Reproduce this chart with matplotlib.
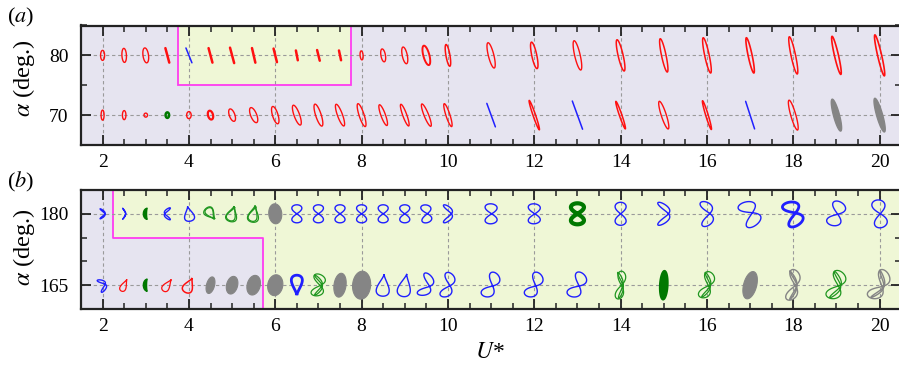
import numpy as np
import matplotlib
matplotlib.use("Agg")
import matplotlib.pyplot as plt
import matplotlib.transforms as mtransforms
from matplotlib.patches import Polygon, Rectangle
from matplotlib.lines import Line2D
from matplotlib.ticker import FixedLocator, MultipleLocator

plt.rcParams["font.family"] = "serif"
plt.rcParams["font.serif"] = ["Liberation Serif", "DejaVu Serif"]
plt.rcParams["mathtext.fontset"] = "stix"

DPI = 100

# reduced velocities of the test matrix (same for every row)
U_STAR = [2, 2.5, 3, 3.5, 4, 4.5, 5, 5.5, 6, 6.5, 7, 7.5, 8, 8.5, 9, 9.5, 10,
          11, 12, 13, 14, 15, 16, 17, 18, 19, 20]
U_TICKS = [2, 4, 6, 8, 10, 12, 14, 16, 18, 20]

ALPHA_A = [80, 70]
ALPHA_B = [180, 165]

# trajectory glyphs, one per U*: (kind, colour, width px, height px, tilt deg, phase, lw)
A_ROW_80 = [
    ("ell", "r", 4, 10, 0, 0, 1.0),
    ("ell", "r", 4.5, 14, 3, 0, 1.0),
    ("ell", "r", 5.5, 15, 8, 0, 1.0),
    ("seg", "r", 0, 15, 15, 0, 1.8),
    ("seg", "b", 0, 16, 22, 0, 1.1),
    ("seg", "r", 0, 15, 15, 0, 1.8),
    ("seg", "r", 0, 16, 15, 0, 1.8),
    ("seg", "r", 0, 15, 13, 0, 1.8),
    ("seg", "r", 0, 14, 14, 0, 1.8),
    ("seg", "r", 0, 10, 11, 0, 1.8),
    ("seg", "r", 0, 11, 14, 0, 1.8),
    ("seg", "r", 0, 10, 12, 0, 1.8),
    ("ell", "r", 3, 9, 5, 0, 1.0),
    ("ell", "r", 4.5, 13, 10, 0, 1.0),
    ("ell", "r", 5, 17, 12, 0, 1.0),
    ("ell", "r", 6, 20, 15, 0, 1.4),
    ("ell", "r", 4, 22, 10, 0, 1.1),
    ("ell", "r", 5.5, 26, 14, 0, 1.0),
    ("ell", "r", 5, 27, 12, 0, 1.1),
    ("ell", "r", 5.5, 30, 13, 0, 1.0),
    ("ell", "r", 5, 32, 13, 0, 1.1),
    ("ell", "r", 4.5, 34, 12, 0, 1.1),
    ("ell", "r", 4.5, 36, 12, 0, 1.1),
    ("ell", "r", 4, 36, 12, 0, 1.2),
    ("ell", "r", 4.5, 38, 12, 0, 1.1),
    ("ell", "r", 4, 39, 13, 0, 1.2),
    ("ell", "r", 4, 42, 13, 0, 1.2),
]

A_ROW_70 = [
    ("ell", "r", 3, 10, 0, 0, 1.0),
    ("ell", "r", 3.5, 9, 0, 0, 1.0),
    ("ell", "r", 3.5, 4, 0, 0, 1.0),
    ("ell", "G", 3.5, 5.5, 0, 0, 1.8),
    ("ell", "r", 4.5, 7, 0, 0, 1.0),
    ("ell", "r", 5, 9, 15, 0, 1.6),
    ("ell", "r", 5.5, 13, 20, 0, 1.0),
    ("ell", "r", 6, 16, 22, 0, 1.0),
    ("ell", "r", 5.5, 18, 17, 0, 1.0),
    ("ell", "r", 5.5, 21, 20, 0, 1.0),
    ("ell", "r", 5.5, 23, 18, 0, 1.0),
    ("ell", "r", 5, 23, 20, 0, 1.0),
    ("ell", "r", 5, 24, 18, 0, 1.0),
    ("ell", "r", 4.5, 22, 20, 0, 1.0),
    ("ell", "r", 4, 23, 20, 0, 1.0),
    ("ell", "r", 4.5, 24, 22, 0, 1.0),
    ("ell", "r", 4, 24, 18, 0, 1.0),
    ("seg", "b", 0, 25, 20, 0, 1.1),
    ("ell", "r", 2.5, 31, 19, 0, 1.1),
    ("seg", "b", 0, 30, 20, 0, 1.1),
    ("ell", "r", 2.5, 29, 19, 0, 1.1),
    ("ell", "r", 5, 29, 18, 0, 1.0),
    ("ell", "r", 2.5, 30, 17, 0, 1.1),
    ("seg", "b", 0, 29, 18, 0, 1.1),
    ("ell", "r", 5, 31, 16, 0, 1.0),
    ("blob", "k", 6, 33, 15, 0, 1.0),
    ("blob", "k", 6, 35, 16, 0, 1.0),
]

B_ROW_180 = [
    ("eight", "b", 5, 10, 0, 1.2, 1.0),
    ("eight", "b", 3, 11, 0, 1.45, 1.0),
    ("moon", "G", 8, 11, 0, 0, 1.0),
    ("eight", "b", 6, 12, 0, -1.0, 1.0),
    ("drop", "b", 10, 15, 10, 0, 1.0),
    ("drop2", "g", 10, 14, -140, 0, 0.9),
    ("drop2", "g", 11, 16, -15, 0, 0.9),
    ("drop2", "g", 11, 17, -10, 0, 0.9),
    ("blob", "k", 13, 20, 5, 0, 0.8),
    ("eight", "b", 10, 18, 0, 0.0, 1.0),
    ("eight", "b", 10, 18, 0, 0.0, 1.0),
    ("eight", "b", 10, 18, 0, 0.0, 1.0),
    ("eight", "b", 10, 18, 0, 0.0, 1.0),
    ("eight", "b", 10, 18, 0, 0.0, 1.0),
    ("eight", "b", 10, 18, 0, 0.0, 1.0),
    ("eight", "b", 10, 18, 5, 0.2, 1.0),
    ("eight", "b", 9, 18, 0, 0.9, 1.0),
    ("eight", "b", 12, 20, 0, 0.1, 1.0),
    ("eight", "b", 12, 20, 0, 0.1, 1.0),
    ("eight", "G", 13, 21, 0, 0.0, 3.0),
    ("eight", "b", 11, 23, 0, 0.0, 1.0),
    ("eight", "b", 12, 23, 0, 0.9, 1.0),
    ("eight", "b", 12, 25, 5, 0.5, 1.0),
    ("eight", "b", 17, 26, 25, 0.3, 1.0),
    ("eight", "b", 16, 25, 20, 0.3, 2.0),
    ("eight", "b", 14, 25, -20, 0.2, 1.0),
    ("eight", "b", 13, 28, 8, 0.1, 1.0),
]

B_ROW_165 = [
    ("eight", "b", 7, 13, 20, 0.9, 1.0),
    ("drop", "r", 6, 13, -25, 0, 0.9),
    ("moon", "G", 8, 12, 0, 0, 1.0),
    ("drop", "r", 7, 14, -35, 0, 0.9),
    ("drop", "r", 10, 16, -25, 0, 1.1),
    ("blob", "k", 8, 17, -15, 0, 0.8),
    ("blob", "k", 11, 18, -15, 0, 0.8),
    ("blob", "k", 13, 20, -15, 0, 0.8),
    ("blob", "k", 15, 21, -10, 0, 0.8),
    ("drop", "b", 11, 20, 180, 0, 2.0),
    ("tangle", "g", 12, 22, -10, 0.3, 0.9),
    ("blob", "k", 12, 24, -8, 0, 0.8),
    ("blob", "k", 18, 28, -5, 0, 0.8),
    ("drop", "b", 13, 22, -5, 0, 1.0),
    ("drop", "b", 13, 23, -10, 0, 1.0),
    ("eight", "b", 12, 23, -20, 0.6, 1.0),
    ("eight", "b", 11, 25, -15, 0.4, 1.0),
    ("eight", "b", 12, 26, -26, 0.3, 1.0),
    ("eight", "b", 12, 26, -26, 0.3, 1.0),
    ("eight", "b", 13, 26, -26, 0.3, 1.0),
    ("tangle", "g", 8, 28, -8, 0.2, 0.9),
    ("blob", "G", 8, 29, -3, 0, 1.2),
    ("tangle", "g", 11, 27, -18, 0.3, 0.9),
    ("blob", "k", 13, 28, -15, 0, 0.8),
    ("tangle", "k", 11, 31, -10, 0.4, 1.0),
    ("tangle", "g", 14, 29, -20, 0.3, 0.9),
    ("tangle", "k", 14, 31, -28, 0.4, 1.0),
]

COLORS = {"r": "#ff1010", "b": "#2020ff", "g": "#1f961f",
          "G": "#007800", "k": "#858585"}
LAVENDER = "#e6e4f0"
PALEGREEN = "#eff7d6"
MAGENTA = "#ff3cf0"


def outline(kind, w, h, tilt, phase):
    t = np.linspace(0, 2 * np.pi, 241)
    if kind in ("ell", "blob"):
        x, y = 0.5 * w * np.cos(t), 0.5 * h * np.sin(t)
    elif kind in ("drop", "drop2"):
        y = -0.5 * h * np.cos(t)
        x = 0.5 * w * np.sin(t) * (1 + np.cos(t)) / 1.3
    elif kind == "moon":
        # outer half-ellipse on the left, shallow inner arc back on the right
        s = np.linspace(-np.pi / 2, np.pi / 2, 60)
        x = np.concatenate([-0.5 * w * np.cos(s), -0.1 * w * np.cos(s[::-1])]) + 0.2 * w
        y = np.concatenate([0.5 * h * np.sin(s), 0.5 * h * np.sin(s[::-1])])
    else:
        # 1:2 orbit, a little third harmonic rounds off the lobes
        x = 0.5 * w * np.sin(2 * t + phase)
        y = 0.5 * h * (np.sin(t) - 0.06 * np.sin(3 * t)) / 1.06
    th = np.radians(tilt)
    return np.column_stack([x * np.cos(th) - y * np.sin(th),
                            x * np.sin(th) + y * np.cos(th)])


def draw_glyph(fig, ax, u, a, glyph):
    kind, c, w, h, tilt, phase, lw = glyph
    col = COLORS[c]
    # shape is given in pixels around the (U*, alpha) point
    trans = (mtransforms.Affine2D().scale(1.0 / DPI) + fig.dpi_scale_trans
             + mtransforms.ScaledTranslation(u, a, ax.transData))
    if kind == "seg":
        th = np.radians(tilt)
        dx, dy = -0.5 * h * np.sin(th), 0.5 * h * np.cos(th)
        ax.add_line(Line2D([-dx, dx], [-dy, dy], color=col, lw=lw,
                           solid_capstyle="round", transform=trans, zorder=3))
        return
    shapes = [outline(kind, w, h, tilt, phase)]
    if kind == "tangle":
        shapes.append(outline(kind, 0.65 * w, 0.92 * h, tilt + 10, phase + 0.9))
    if kind == "drop2":
        shapes.append(outline(kind, 0.8 * w, 0.9 * h, tilt - 8, phase))
    filled = kind in ("blob", "moon")
    for verts in shapes:
        ax.add_patch(Polygon(verts, closed=True, fill=filled, facecolor=col,
                             edgecolor=col, lw=lw, transform=trans, zorder=3))


def style_axes(ax, alpha_ticks):
    ax.set_xlim(1.5, 20.5)
    ax.set_facecolor(LAVENDER)
    ax.set_axisbelow(True)
    ax.xaxis.set_major_locator(FixedLocator(U_TICKS))
    ax.xaxis.set_minor_locator(MultipleLocator(0.5))
    ax.yaxis.set_major_locator(FixedLocator(alpha_ticks))
    ax.yaxis.set_minor_locator(MultipleLocator(5))
    ax.grid(True, which="major", color="#9a9a9a", lw=0.8, ls=(0, (3, 2.5)))
    ax.tick_params(which="both", direction="in", top=True, right=True,
                   color="#222222", labelsize=14)
    ax.tick_params(which="major", length=7, width=1.3)
    ax.tick_params(which="minor", length=4.5, width=1.1)
    ax.tick_params(axis="x", pad=6.5)
    ax.tick_params(axis="y", pad=9)
    for sp in ax.spines.values():
        sp.set_linewidth(1.6)
        sp.set_color("#222222")


fig = plt.figure(figsize=(8.99, 3.68), dpi=DPI)
ax_a = fig.add_axes([81 / 899, 223 / 368, 820.2 / 899, 119.5 / 368])
ax_b = fig.add_axes([81 / 899, 59 / 368, 820.2 / 899, 119 / 368])

# (a) alpha near 75 deg
style_axes(ax_a, ALPHA_A)
ax_a.set_ylim(65, 85)
ax_a.add_patch(Rectangle((3.75, 75), 4.0, 10, facecolor=PALEGREEN,
                         edgecolor=MAGENTA, lw=1.3, zorder=0.2))
for row, a in zip([A_ROW_80, A_ROW_70], ALPHA_A):
    for u, g in zip(U_STAR, row):
        draw_glyph(fig, ax_a, u, a, g)

# (b) alpha near 180 deg
style_axes(ax_b, ALPHA_B)
ax_b.set_ylim(160, 185)
region = [(2.25, 185), (2.25, 175), (5.72, 175), (5.72, 160), (20.5, 160), (20.5, 185)]
ax_b.add_patch(Polygon(region, closed=True, facecolor=PALEGREEN,
                       edgecolor="none", zorder=0.2))
ax_b.plot([2.25, 2.25, 5.72, 5.72], [185, 175, 175, 160], color=MAGENTA,
          lw=1.3, zorder=0.3)
for row, a in zip([B_ROW_180, B_ROW_165], ALPHA_B):
    for u, g in zip(U_STAR, row):
        draw_glyph(fig, ax_b, u, a, g)

fig.text(7 / 899, 1 - 6 / 368, "($a$)", fontsize=16, va="top", ha="left")
fig.text(7 / 899, 1 - 170 / 368, "($b$)", fontsize=16, va="top", ha="left")
fig.text(24 / 899, 1 - 78 / 368, r"$\alpha$ (deg.)", fontsize=17.5,
         rotation=90, ha="center", va="center")
fig.text(24 / 899, 1 - 247 / 368, r"$\alpha$ (deg.)", fontsize=17.5,
         rotation=90, ha="center", va="center")
fig.text(490 / 899, 1 - 353 / 368, "$U$*", fontsize=17, ha="center", va="center")

fig.savefig("out.png", dpi=DPI)
